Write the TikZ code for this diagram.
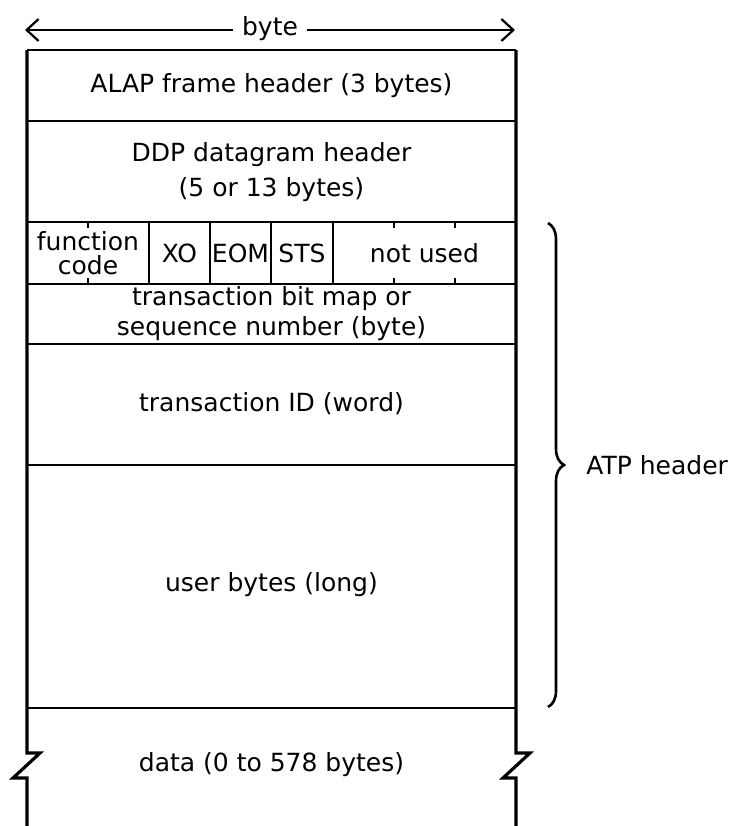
\documentclass[tikz,border=0pt]{standalone}
\usepackage{fontspec}
\setmainfont{DejaVu Sans}
\usetikzlibrary{arrows.meta, decorations.pathreplacing}

\begin{document}
\begin{tikzpicture}[
    x=0.5pt, y=-0.5pt,
    side/.style={line width=1.6pt},
    rule/.style={line width=1.1pt},
    tick/.style={line width=1.1pt},
    label/.style={font=\fontsize{12.5}{17.5}\selectfont, align=center, inner sep=0pt},
    tight/.style={font=\fontsize{12.5}{12}\selectfont, align=center, inner sep=0pt},
    arrow/.style={-{Straight Barb[length=6pt, width=11pt]}, line width=1.1pt}
]
\useasboundingbox (0,0) rectangle (739,826);

% width marker
\node[label, inner xsep=4.5pt] (byte) at (270,29) {byte};
\coordinate (bl) at (25,30);
\coordinate (br) at (515,30);
\draw[arrow] (byte.west |- bl) -- (bl);
\draw[arrow] (byte.east |- br) -- (br);

% outer sides with break
\draw[side] (27,50) -- (27,753) -- (40,753) -- (13,778) -- (27,778) -- (27,826);
\draw[side] (516,50) -- (516,753) -- (530,753) -- (503,778) -- (516,778) -- (516,826);

% field boundaries
\foreach \y in {50,121,222,284,344,465,708}
    \draw[rule] (27,\y) -- (516,\y);

% bit field dividers and ticks
\foreach \x in {149,210,271,333}
    \draw[rule] (\x,222) -- (\x,284);
\foreach \x in {88,394,455} {
    \draw[tick] (\x,222) -- (\x,228);
    \draw[tick] (\x,278) -- (\x,284);
}

% field texts
\node[label] (alap) at (271.5,86) {ALAP frame header (3 bytes)};
\node[label] (ddp) at (271.5,172) {DDP datagram header\\(5 or 13 bytes)};
\foreach \cx/\name/\txt in {88/fcode/{function\\code}, 179.5/xo/XO, 240.5/eom/EOM, 302/sts/STS, 424.5/unused/not used}
    \node[tight] (\name) at (\cx,253) {\txt};
\node[label, font=\fontsize{12.5}{15}\selectfont] (bitmap) at (271.5,314) {transaction bit map or\\sequence number (byte)};
\node[label] (tid) at (271.5,404) {transaction ID (word)};
\node[label] (user) at (271.5,585) {user bytes (long)};
\node[label] (data) at (271.5,765) {data (0 to 578 bytes)};

% ATP header brace
\coordinate (btop) at (548,223);
\coordinate (bbot) at (548,707);
\draw[side, line width=1.3pt, decorate, decoration={brace, amplitude=8pt}] (btop) -- (bbot);
\node[label, anchor=west] (atp) at (586,465) {ATP header};
\end{tikzpicture}
\end{document}
